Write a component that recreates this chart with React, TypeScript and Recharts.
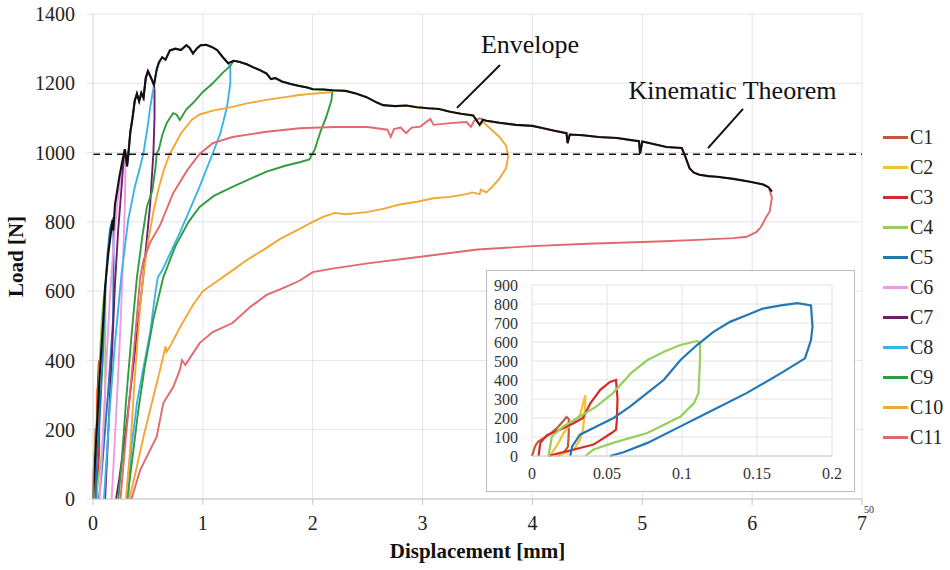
import {
  CartesianGrid,
  Label,
  Legend,
  Line,
  LineChart,
  ReferenceDot,
  ReferenceLine,
  XAxis,
  YAxis,
} from "recharts";

const SERIF = '"Liberation Serif", "Times New Roman", serif';

// axis ticks
const xTicks = [0, 1, 2, 3, 4, 5, 6, 7];
const yTicks = [0, 200, 400, 600, 800, 1000, 1200, 1400];
const insetXTicks = [0, 0.05, 0.1, 0.15, 0.2];
const insetYTicks = [0, 100, 200, 300, 400, 500, 600, 700, 800, 900];

const kinematicLoad = 995;

// monotonic envelope [displacement mm, load N]
const envelope = [
  [0, 0], [0.03, 180], [0.064, 372], [0.09, 500], [0.11, 612], [0.14, 710], [0.17, 786],
  [0.18, 805], [0.185, 775], [0.2, 850], [0.24, 930], [0.27, 980], [0.29, 1010], [0.3, 990],
  [0.31, 960], [0.32, 990], [0.34, 1060], [0.36, 1100], [0.38, 1150], [0.4, 1170], [0.42, 1148],
  [0.44, 1172], [0.46, 1158], [0.48, 1215], [0.5, 1235], [0.53, 1215], [0.555, 1195], [0.58, 1240],
  [0.6, 1260], [0.63, 1275], [0.66, 1268], [0.7, 1295], [0.75, 1300], [0.8, 1296], [0.85, 1310],
  [0.88, 1302], [0.91, 1286], [0.95, 1302], [0.98, 1310], [1.03, 1311], [1.08, 1305], [1.13, 1296],
  [1.18, 1276], [1.23, 1258], [1.28, 1265], [1.33, 1262], [1.4, 1255], [1.46, 1246], [1.52, 1238],
  [1.58, 1228], [1.62, 1212], [1.66, 1215], [1.72, 1205], [1.8, 1198], [1.88, 1192], [1.95, 1188],
  [2.0, 1183], [2.1, 1182], [2.18, 1180], [2.3, 1178], [2.4, 1170], [2.49, 1160], [2.58, 1145],
  [2.64, 1137], [2.75, 1134], [2.85, 1136], [2.95, 1131], [3.05, 1128], [3.15, 1126], [3.25, 1118],
  [3.35, 1112], [3.46, 1107], [3.52, 1080], [3.55, 1095], [3.58, 1092], [3.7, 1086], [3.85, 1080],
  [4.0, 1077], [4.1, 1070], [4.2, 1063], [4.31, 1056], [4.32, 1027], [4.34, 1052], [4.46, 1050],
  [4.6, 1045], [4.77, 1042], [4.9, 1036], [4.97, 1033], [4.98, 997], [5.0, 1032], [5.1, 1025],
  [5.22, 1016], [5.36, 1013], [5.39, 990], [5.43, 955], [5.47, 942], [5.52, 936], [5.6, 932],
  [5.68, 930], [5.83, 924], [5.98, 916], [6.1, 908], [6.15, 900], [6.18, 887],
];

// small cycles (also shown in the inset)
const c1 = [
  [0, 0], [0.002, 50], [0.004, 75], [0.007, 90], [0.012, 115], [0.017, 150], [0.021, 185],
  [0.023, 205], [0.0245, 195], [0.0245, 120], [0.024, 50], [0.021, 15], [0.017, 0],
];
const c2 = [
  [0.012, 0], [0.014, 25], [0.017, 60], [0.021, 121], [0.0255, 165], [0.03, 200], [0.032, 215],
  [0.033, 245], [0.0355, 320], [0.0355, 261], [0.034, 139], [0.032, 86], [0.028, 34],
  [0.021, 13], [0.014, 0],
];
const c3 = [
  [0.0044, 0], [0.0055, 69], [0.01, 110], [0.019, 139], [0.028, 174], [0.034, 200], [0.039, 279],
  [0.0455, 348], [0.052, 390], [0.056, 400], [0.057, 300], [0.0565, 180], [0.056, 139],
  [0.053, 121], [0.047, 90], [0.041, 60], [0.028, 34], [0.017, 13], [0.011, 0],
];
const c4 = [
  [0.011, 0], [0.0133, 104], [0.021, 156], [0.032, 208], [0.043, 261], [0.054, 331], [0.066, 436],
  [0.077, 505], [0.088, 549], [0.099, 584], [0.11, 605], [0.112, 598], [0.112, 505], [0.111, 331],
  [0.108, 279], [0.099, 208], [0.077, 121], [0.054, 69], [0.041, 34], [0.0355, 0],
];
const c5 = [
  [0.0255, 0], [0.0268, 51], [0.032, 112], [0.0433, 156], [0.0544, 200], [0.0655, 261],
  [0.0767, 331], [0.0878, 400], [0.099, 505], [0.11, 584], [0.121, 653], [0.132, 706],
  [0.143, 741], [0.154, 776], [0.166, 793], [0.177, 805], [0.186, 793], [0.187, 680],
  [0.186, 610], [0.182, 514], [0.166, 436], [0.143, 331], [0.121, 243], [0.099, 156],
  [0.077, 69], [0.061, 20], [0.052, 0],
];

// larger cycles: loading branch up to the envelope, unloading branch back to zero load
const c6Load = [
  [0.06, 0], [0.09, 180], [0.12, 380], [0.15, 560], [0.18, 700], [0.2, 780], [0.22, 850],
  [0.25, 930], [0.27, 975], [0.29, 1005],
];
const c6Unload = [
  [0.295, 960], [0.29, 850], [0.275, 700], [0.25, 500], [0.22, 300], [0.19, 120], [0.17, 0],
];
const c7Load = [
  [0.11, 0], [0.14, 200], [0.17, 400], [0.2, 620], [0.23, 780], [0.26, 900], [0.28, 985],
];
const c7Unload = [
  [0.56, 1180], [0.56, 1100], [0.55, 1000], [0.52, 850], [0.46, 650], [0.38, 420], [0.3, 200],
  [0.24, 60], [0.21, 0],
];
const c8Load = [
  [0.1, 0], [0.15, 250], [0.2, 450], [0.26, 650], [0.32, 805], [0.38, 900], [0.43, 960],
  [0.46, 1000], [0.5, 1080], [0.52, 1130], [0.55, 1185],
];
const c8Unload = [
  [1.25, 1247], [1.25, 1200], [1.22, 1132], [1.16, 1056], [1.09, 998], [0.97, 901], [0.79, 768],
  [0.63, 660], [0.59, 640], [0.57, 600], [0.52, 480], [0.46, 380], [0.4, 277], [0.35, 150],
  [0.32, 0],
];
const c9Load = [
  [0.23, 0], [0.26, 100], [0.3, 280], [0.35, 470], [0.4, 640], [0.45, 760], [0.49, 843],
  [0.54, 890], [0.57, 960], [0.58, 998], [0.6, 1010], [0.63, 1050], [0.67, 1085], [0.73, 1114],
  [0.76, 1110], [0.79, 1094], [0.85, 1125], [0.91, 1143], [1.0, 1175], [1.09, 1200],
  [1.18, 1230], [1.25, 1250],
];
const c9Unload = [
  [2.18, 1178], [2.17, 1150], [2.12, 1100], [2.07, 1060], [2.02, 1010], [1.97, 980],
  [1.88, 972], [1.75, 962], [1.58, 945], [1.4, 920], [1.27, 901], [1.1, 875], [0.97, 843],
  [0.87, 800], [0.75, 730], [0.64, 640], [0.55, 520], [0.47, 380], [0.41, 250], [0.36, 120],
  [0.31, 0],
];
const c10Load = [
  [0.3, 0], [0.34, 150], [0.38, 350], [0.43, 560], [0.46, 650], [0.5, 740], [0.55, 830],
  [0.6, 900], [0.65, 955], [0.7, 996], [0.8, 1055], [0.9, 1095], [0.97, 1110], [1.1, 1122],
  [1.27, 1132], [1.4, 1142], [1.58, 1152], [1.75, 1160], [1.88, 1166], [2.0, 1170], [2.16, 1174],
];
const c10Unload = [
  [3.55, 1088], [3.62, 1068], [3.7, 1045], [3.76, 1020], [3.78, 990], [3.76, 955], [3.7, 925],
  [3.63, 900], [3.58, 885], [3.53, 893], [3.52, 880], [3.45, 885], [3.4, 880], [3.25, 872],
  [3.1, 868], [2.95, 858], [2.79, 850], [2.65, 838], [2.49, 828], [2.3, 822], [2.2, 826],
  [2.1, 815], [2.0, 800], [1.88, 780], [1.7, 750], [1.58, 725], [1.4, 690], [1.27, 660],
  [1.09, 620], [1.0, 600], [0.91, 560], [0.8, 500], [0.7, 440], [0.67, 425], [0.66, 440],
  [0.61, 372], [0.53, 270], [0.46, 180], [0.39, 80], [0.33, 0],
];
const c11Load = [
  [0.25, 0], [0.3, 180], [0.35, 350], [0.4, 530], [0.43, 640], [0.46, 690], [0.52, 740],
  [0.61, 790], [0.73, 883], [0.86, 950], [0.97, 996], [1.09, 1027], [1.27, 1045], [1.58, 1060],
  [1.88, 1070], [2.2, 1074], [2.5, 1074], [2.68, 1066], [2.71, 1045], [2.74, 1068], [2.8, 1072],
  [2.85, 1056], [2.9, 1072], [2.98, 1075], [3.07, 1097], [3.1, 1080], [3.25, 1085], [3.4, 1088],
  [3.44, 1074], [3.47, 1092], [3.52, 1099],
];
const c11Unload = [
  [6.18, 870], [6.16, 830], [6.13, 815], [6.08, 785], [6.04, 771], [5.95, 757], [5.83, 753],
  [5.5, 748], [5.2, 744], [5.0, 742], [4.5, 737], [4.0, 730], [3.5, 720], [3.0, 700],
  [2.5, 680], [2.18, 665], [2.0, 655], [1.88, 630], [1.73, 609], [1.58, 589], [1.43, 554],
  [1.27, 508], [1.09, 482], [0.97, 450], [0.84, 387], [0.81, 401], [0.79, 372], [0.73, 323],
  [0.64, 277], [0.58, 180], [0.43, 84], [0.35, 0],
];

const names = ["C1", "C2", "C3", "C4", "C5", "C6", "C7", "C8", "C9", "C10", "C11"];
const colors = [
  "#c0583a", "#f2c230", "#d8282a", "#96cf5e", "#2277b4", "#ee9ae4",
  "#6b1f6f", "#3ab4e6", "#2f9d3f", "#f2a736", "#e3686e",
];

const pts = (a: number[][]) => a.map(([x, y]) => ({ x, y }));
const along = (from: number, to: number) => envelope.filter(([x]) => x > from && x < to);

const loops = [
  c1,
  c2,
  c3,
  c4,
  c5,
  [...c6Load, ...c6Unload],
  [...c7Load, ...along(0.285, 0.556), ...c7Unload],
  [...c8Load, ...along(0.55, 1.24), ...c8Unload],
  [...c9Load, ...along(1.26, 2.17), ...c9Unload],
  [...c10Load, ...along(2.17, 3.53), ...c10Unload],
  [...c11Load, ...along(3.53, 6.18), ...c11Unload],
].map(pts);

const tickStyle = { fill: "#222", fontSize: 20, fontFamily: SERIF };

function XTitle(props: any) {
  const { x, y, width } = props.viewBox;
  return (
    <text x={x + width / 2} y={y + 59} textAnchor="middle" fontFamily={SERIF} fontSize={21} fontWeight="bold" fill="#111">
      Displacement [mm]
    </text>
  );
}

function YTitle(props: any) {
  const { y, height } = props.viewBox;
  const cx = 23;
  const cy = y + height / 2;
  return (
    <text x={cx} y={cy} transform={`rotate(-90 ${cx} ${cy})`} textAnchor="middle" fontFamily={SERIF} fontSize={21} fontWeight="bold" fill="#111">
      Load [N]
    </text>
  );
}

// keep legend in C1..C11 order, drop the envelope
function LegendList({ payload }: any) {
  const items = names
    .map((n) => (payload || []).find((p: any) => p.value === n))
    .filter(Boolean);
  return (
    <div style={{ display: "flex", flexDirection: "column", fontFamily: SERIF }}>
      {items.map((p: any) => (
        <div key={p.value} style={{ height: 30, display: "flex", alignItems: "center" }}>
          <span style={{ width: 25, height: 3, background: p.color, marginRight: 2 }} />
          <span style={{ fontSize: 20, color: "#222" }}>{p.value}</span>
        </div>
      ))}
    </div>
  );
}

export default function App() {
  return (
    <div style={{ position: "absolute", left: 0, top: 0, width: 950, height: 570, background: "#fff", fontFamily: SERIF }}>
      <LineChart width={950} height={570} margin={{ top: 14, right: 88, bottom: 0, left: 0 }} style={{ fontFamily: SERIF }}>
        <CartesianGrid stroke="#e4e4e4" />
        <XAxis
          type="number"
          dataKey="x"
          domain={[0, 7]}
          ticks={xTicks}
          interval={0}
          height={71}
          tick={tickStyle}
          tickSize={6}
          tickMargin={11}
          stroke="#c4c4c4"
          tickLine={{ stroke: "#c4c4c4" }}
        >
          <Label content={XTitle} />
        </XAxis>
        <YAxis
          type="number"
          domain={[0, 1400]}
          ticks={yTicks}
          interval={0}
          width={93}
          tick={tickStyle}
          tickSize={6}
          tickMargin={12}
          stroke="#e0e0e0"
          tickLine={{ stroke: "#e0e0e0" }}
        >
          <Label content={YTitle} />
        </YAxis>
        {loops.map((d, i) => (
          <Line
            key={names[i]}
            name={names[i]}
            data={d}
            dataKey="y"
            type="linear"
            stroke={colors[i]}
            strokeWidth={1.9}
            dot={false}
            legendType="plainline"
            isAnimationActive={false}
          />
        ))}
        <Line
          name="Envelope"
          data={pts(envelope)}
          dataKey="y"
          type="linear"
          stroke="#111"
          strokeWidth={2.1}
          dot={false}
          legendType="none"
          isAnimationActive={false}
        />
        <ReferenceLine y={kinematicLoad} stroke="#111" strokeWidth={1.5} strokeDasharray="7 5" />
        <ReferenceLine segment={[{ x: 3.705, y: 1253 }, { x: 3.313, y: 1129 }]} stroke="#111" strokeWidth={2} />
        <ReferenceLine segment={[{ x: 5.917, y: 1126 }, { x: 5.598, y: 1013 }]} stroke="#111" strokeWidth={2} />
        <ReferenceDot
          x={3.978}
          y={1315}
          r={0}
          fill="none"
          stroke="none"
          label={{ value: "Envelope", position: "center", fontSize: 26, fontFamily: SERIF, fill: "#111" }}
        />
        <ReferenceDot
          x={5.821}
          y={1182}
          r={0}
          fill="none"
          stroke="none"
          label={{ value: "Kinematic Theorem", position: "center", fontSize: 26, fontFamily: SERIF, fill: "#111" }}
        />
        <Legend
          layout="vertical"
          align="center"
          verticalAlign="middle"
          content={LegendList}
          wrapperStyle={{ left: 883, top: 122, width: 70, height: 330 }}
        />
      </LineChart>

      <span style={{ position: "absolute", left: 864, top: 504, fontSize: 10, fontFamily: SERIF, color: "#333" }}>50</span>

      <div style={{ position: "absolute", left: 486, top: 270, width: 367, height: 220, border: "1px solid #bdbdbd", background: "#fff" }}>
        <LineChart width={367} height={220} margin={{ top: 14, right: 22, bottom: 0, left: 0 }} style={{ fontFamily: SERIF }}>
          <CartesianGrid stroke="#e2e2e2" />
          <XAxis
            type="number"
            dataKey="x"
            domain={[0, 0.2]}
            ticks={insetXTicks}
            interval={0}
            height={35}
            tick={{ fill: "#333", fontSize: 16, fontFamily: SERIF }}
            tickLine={false}
            tickSize={0}
            tickMargin={12}
            stroke="#d0d0d0"
          />
          <YAxis
            type="number"
            domain={[0, 900]}
            ticks={insetYTicks}
            interval={0}
            width={45}
            tick={{ fill: "#333", fontSize: 16, fontFamily: SERIF }}
            tickLine={false}
            axisLine={false}
            tickSize={0}
            tickMargin={14}
          />
          {loops.slice(0, 5).map((d, i) => (
            <Line
              key={names[i]}
              name={names[i]}
              data={d}
              dataKey="y"
              type="linear"
              stroke={colors[i]}
              strokeWidth={2.2}
              dot={false}
              isAnimationActive={false}
            />
          ))}
        </LineChart>
      </div>
    </div>
  );
}
